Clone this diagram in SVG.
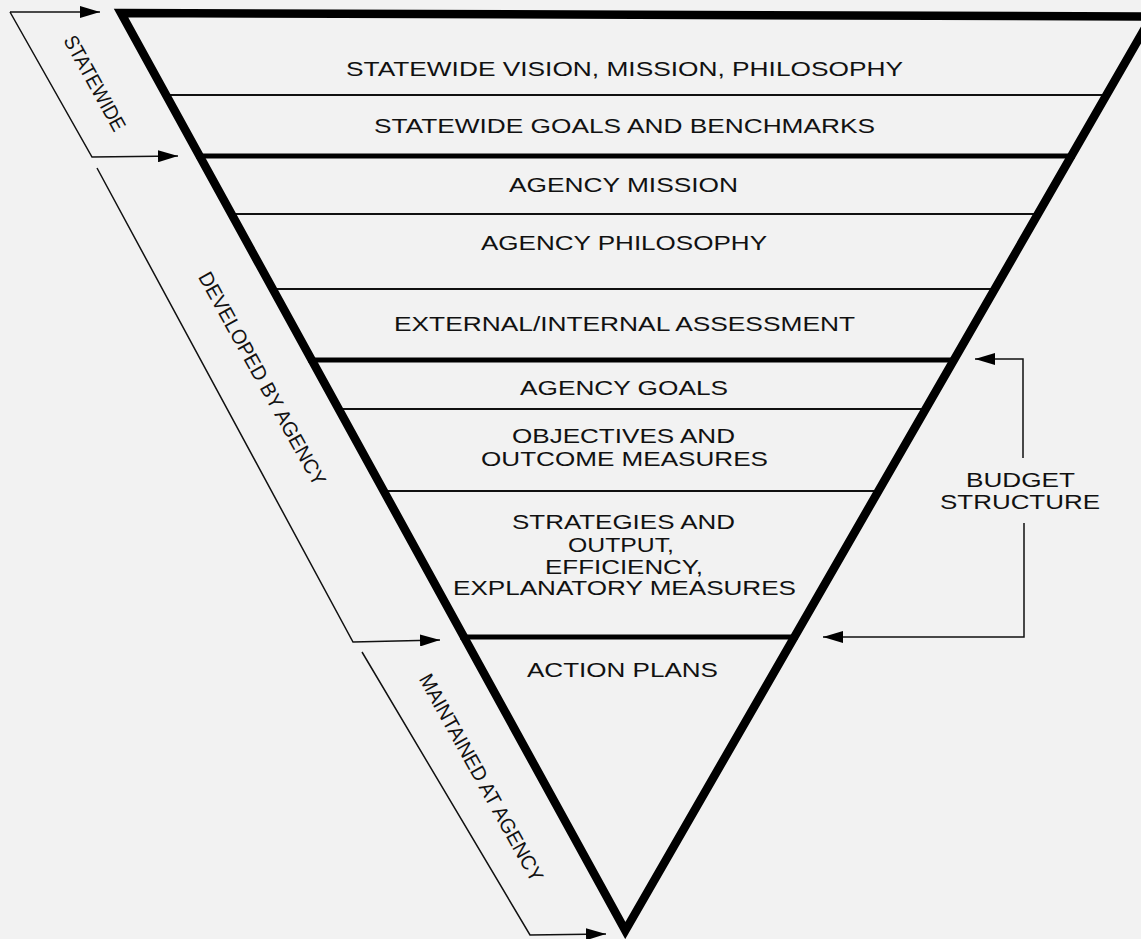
<svg xmlns="http://www.w3.org/2000/svg" width="1141" height="939" viewBox="0 0 1141 939">
<defs>
<style>
.t{font-family:"Liberation Sans",Arial,Helvetica,sans-serif;font-size:21px;fill:#111;}
.r{font-family:"Liberation Sans",Arial,Helvetica,sans-serif;font-size:20.5px;fill:#111;text-anchor:middle;}
.thin{stroke:#111;stroke-width:1.8;fill:none;}
.thick{stroke:#000;stroke-width:5;fill:none;}
.br{stroke:#111;stroke-width:1.5;fill:none;}
</style>
<marker id="ah" viewBox="0 0 20 12" refX="20" refY="6" markerWidth="20" markerHeight="12" markerUnits="userSpaceOnUse" orient="auto">
<path d="M0,0 L20,6 L0,12 z" fill="#000"/>
</marker>
</defs>
<rect x="0" y="0" width="1141" height="939" fill="#f2f2f2"/>

<g id="dividers">
<line class="thin" x1="162" y1="95" x2="1110" y2="95"/>
<line class="thick" x1="196" y1="156" x2="1075" y2="156"/>
<line class="thin" x1="228" y1="214" x2="1042" y2="214"/>
<line class="thin" x1="269" y1="289" x2="998" y2="289"/>
<line class="thick" x1="308" y1="360" x2="957" y2="360"/>
<line class="thin" x1="335" y1="409" x2="929" y2="409"/>
<line class="thin" x1="380" y1="491" x2="882" y2="491"/>
<line class="thick" x1="460" y1="637" x2="798" y2="637"/>
</g>

<g id="triangle">
<polygon points="121,13 1151.7,16.5 625.3,930.5" fill="none" stroke="#000" stroke-width="8.5" stroke-linejoin="miter" stroke-miterlimit="10"/>
</g>

<g id="statewide-vision"><text class="t" x="346" y="76" textLength="557" lengthAdjust="spacingAndGlyphs">STATEWIDE VISION, MISSION, PHILOSOPHY</text></g>
<g id="statewide-goals"><text class="t" x="374" y="133" textLength="501" lengthAdjust="spacingAndGlyphs">STATEWIDE GOALS AND BENCHMARKS</text></g>
<g id="agency-mission"><text class="t" x="509" y="192" textLength="229" lengthAdjust="spacingAndGlyphs">AGENCY MISSION</text></g>
<g id="agency-philosophy"><text class="t" x="481" y="250" textLength="286" lengthAdjust="spacingAndGlyphs">AGENCY PHILOSOPHY</text></g>
<g id="assessment"><text class="t" x="394" y="331" textLength="461" lengthAdjust="spacingAndGlyphs">EXTERNAL/INTERNAL ASSESSMENT</text></g>
<g id="agency-goals"><text class="t" x="520" y="395" textLength="208" lengthAdjust="spacingAndGlyphs">AGENCY GOALS</text></g>
<g id="objectives">
<text class="t" x="512" y="443" textLength="223" lengthAdjust="spacingAndGlyphs">OBJECTIVES AND</text>
<text class="t" x="481" y="466" textLength="287" lengthAdjust="spacingAndGlyphs">OUTCOME MEASURES</text>
</g>
<g id="strategies">
<text class="t" x="512" y="528.5" textLength="223" lengthAdjust="spacingAndGlyphs">STRATEGIES AND</text>
<text class="t" x="568" y="551.5" textLength="106" lengthAdjust="spacingAndGlyphs">OUTPUT,</text>
<text class="t" x="545" y="573.5" textLength="158" lengthAdjust="spacingAndGlyphs">EFFICIENCY,</text>
<text class="t" x="453" y="595" textLength="343" lengthAdjust="spacingAndGlyphs">EXPLANATORY MEASURES</text>
</g>
<g id="action-plans"><text class="t" x="527" y="677" textLength="191" lengthAdjust="spacingAndGlyphs">ACTION PLANS</text></g>
<g id="budget-structure">
<text class="t" x="966" y="486.7" textLength="109" lengthAdjust="spacingAndGlyphs">BUDGET</text>
<text class="t" x="940" y="509.3" textLength="160" lengthAdjust="spacingAndGlyphs">STRUCTURE</text>
</g>

<g id="statewide-label"><text class="r" transform="translate(95,83) rotate(61)" y="7.3" textLength="106" lengthAdjust="spacingAndGlyphs">STATEWIDE</text></g>
<g id="developed-label"><text class="r" transform="translate(262.5,378.5) rotate(61)" y="7.3" textLength="241" lengthAdjust="spacingAndGlyphs">DEVELOPED BY AGENCY</text></g>
<g id="maintained-label"><text class="r" transform="translate(481.5,777.5) rotate(61)" y="7.3" textLength="234" lengthAdjust="spacingAndGlyphs">MAINTAINED AT AGENCY</text></g>

<g id="connectors">
<polyline class="br" points="10,12 100,12" marker-end="url(#ah)"/>
<polyline class="br" points="10,12 92,157 178,156" marker-end="url(#ah)"/>
<polyline class="br" points="97,168 353,642 440,640" marker-end="url(#ah)"/>
<polyline class="br" points="362,652 530,935 606,934" marker-end="url(#ah)"/>
<polyline class="br" points="1023,458 1023,359 975,359" marker-end="url(#ah)"/>
<polyline class="br" points="1024,523 1024,637 823,637" marker-end="url(#ah)"/>
</g>
</svg>
